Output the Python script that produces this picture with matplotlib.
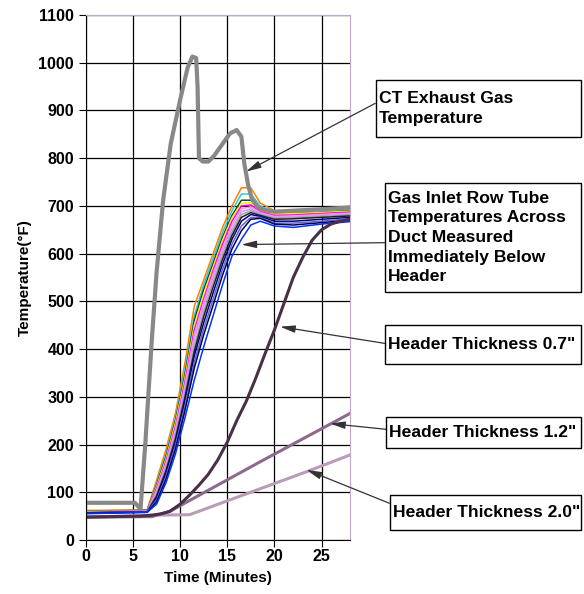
import matplotlib
matplotlib.use("Agg")
import matplotlib.pyplot as plt
from matplotlib.patches import Rectangle

plt.rcParams['font.family'] = ['Liberation Sans', 'DejaVu Sans']
plt.rcParams['font.weight'] = 'bold'

# CT exhaust gas temperature
ct_time = [0, 5.2, 5.8, 6.3, 7.0, 7.5, 8.2, 9.0, 10.0, 10.8, 11.3, 11.7, 11.85, 12.0,
           12.4, 13.0, 13.6, 14.5, 15.3, 16.0, 16.5, 16.8, 17.2, 17.6, 18.2, 19, 20, 22, 25, 28]
ct_temp = [78, 78, 65, 200, 420, 560, 712, 830, 922, 990, 1013, 1010, 950, 800,
           793, 793, 805, 830, 852, 859, 845, 790, 745, 715, 698, 691, 688, 690, 693, 697]

# gas inlet row tube temperatures
tube_time = [0, 6.5, 7.5, 8.5, 9.5, 10.5, 11.5, 12.5, 13.5, 14.5, 15.5, 16.5, 17.5, 18.5, 20, 22, 25, 28]
tube_temps = [
    [62, 63, 125, 190, 265, 370, 490, 545, 600, 655, 700, 738, 738, 706, 690, 688, 690, 694],
    [60, 62, 118, 180, 255, 355, 470, 535, 590, 645, 690, 725, 725, 700, 688, 686, 688, 692],
    [61, 62, 115, 175, 250, 345, 460, 525, 580, 635, 680, 712, 712, 692, 684, 684, 686, 690],
    [60, 61, 112, 170, 245, 338, 450, 515, 572, 628, 675, 705, 707, 690, 683, 684, 686, 689],
    [59, 61, 108, 165, 238, 330, 440, 505, 565, 620, 668, 700, 702, 688, 680, 681, 684, 687],
    [59, 60, 104, 160, 232, 322, 430, 498, 558, 612, 660, 694, 698, 686, 678, 679, 682, 685],
    [58, 60, 100, 155, 225, 315, 420, 490, 550, 605, 652, 688, 694, 684, 676, 677, 680, 683],
    [58, 60, 96, 150, 218, 305, 405, 478, 540, 596, 645, 682, 690, 682, 674, 675, 678, 681],
    [57, 59, 92, 145, 212, 298, 395, 468, 530, 588, 638, 676, 686, 680, 672, 673, 676, 679],
    [57, 59, 88, 140, 205, 290, 385, 455, 518, 578, 630, 668, 682, 678, 668, 668, 672, 676],
    [56, 59, 84, 133, 198, 280, 372, 442, 505, 567, 620, 658, 676, 676, 664, 664, 668, 673],
    [56, 58, 80, 127, 190, 270, 360, 430, 492, 555, 610, 648, 672, 674, 662, 660, 665, 670],
    [55, 58, 75, 120, 180, 255, 335, 405, 470, 535, 595, 630, 660, 668, 658, 655, 662, 667],
]
tube_colors = ['#ff8000', '#33cccc', '#004d33', '#ffee00', '#ff00ff', '#ff99cc', '#cc99ff',
               '#a0a0a0', '#202020', '#000080', '#6666cc', '#000050', '#0033ff']

# header temperatures
h07_time = [0, 5.7, 7.0, 8.0, 8.9, 10.0, 11.0, 12.0, 13.0, 14.0, 15.0, 16.0, 17.0, 18.0,
            19.0, 20.0, 21.0, 22.0, 23.0, 24.0, 25.0, 26.0, 27.0, 28]
h07_temp = [48, 50, 52, 55, 60, 75, 94, 115, 138, 168, 205, 250, 290, 338,
            390, 440, 495, 550, 592, 628, 650, 662, 668, 672]
h12_time = [0, 7.0, 8.9, 18.5, 28]
h12_temp = [48, 49, 60, 164, 265]
h20_time = [0, 7.0, 11.0, 23.4, 28]
h20_temp = [48, 52, 53, 143, 178]

fig = plt.figure(figsize=(5.84, 5.94), dpi=100)
ax = fig.add_axes([0.147, 0.0909, 0.452, 0.8838])

for temps, c in zip(tube_temps, tube_colors):
    ax.plot(tube_time, temps, color=c, lw=1.1)
ax.plot(h20_time, h20_temp, color='#b89cb8', lw=2.2)
ax.plot(h12_time, h12_temp, color='#8c6a8c', lw=2.2)
ax.plot(h07_time, h07_temp, color='#4a2f48', lw=2.2)
ax.plot(ct_time, ct_temp, color='#888888', lw=3)

ax.set_xlim(0, 28)
ax.set_ylim(0, 1100)
ax.set_xticks(range(0, 30, 5))
ax.set_yticks(range(0, 1200, 100))
ax.grid(True, color='black', lw=0.9)
ax.tick_params(direction='out', length=5, labelsize=11.5, color='black')
ax.tick_params(axis='x', pad=1.5)
for s in ['top', 'right']:
    ax.spines[s].set_color('#c0a8c8')
ax.set_xlabel('Time (Minutes)', fontsize=11, fontweight='bold', labelpad=5)
ax.set_ylabel('Temperature(°F)', fontsize=11, fontweight='bold', labelpad=5)

W, H = 584.0, 594.0

def box(x0, y0, x1, y1, txt):
    fig.patches.append(Rectangle((x0 / W, 1 - y1 / H), (x1 - x0) / W, (y1 - y0) / H,
                                 transform=fig.transFigure, fill=False, ec='black', lw=1))
    fig.text((x0 + 3) / W, 1 - (y0 + y1) / 2 / H, txt, ha='left', va='center',
             fontsize=12.6, fontweight='bold', linespacing=1.38)

box(375.7, 80, 580.7, 136.7, 'CT Exhaust Gas\nTemperature')
box(385, 183.3, 580.7, 291.7,
    'Gas Inlet Row Tube\nTemperatures Across\nDuct Measured\nImmediately Below\nHeader')
box(385, 325, 580.7, 364, 'Header Thickness 0.7"')
box(386, 417.3, 580.7, 448, 'Header Thickness 1.2"')
box(390, 495, 580.7, 530, 'Header Thickness 2.0"')

arrows = [((17.0, 772), (30.7, 915)),
          ((16.5, 619), (31.7, 623)),
          ((20.6, 447), (31.7, 412)),
          ((25.9, 244), (31.8, 232)),
          ((23.4, 147), (32.2, 77))]
for head, tail in arrows:
    ax.annotate('', xy=head, xytext=tail, annotation_clip=False,
                arrowprops=dict(arrowstyle='-|>,head_length=0.9,head_width=0.22',
                                color='#333333', lw=0.9, shrinkA=0, shrinkB=0))

fig.savefig('out.png', dpi=100)
